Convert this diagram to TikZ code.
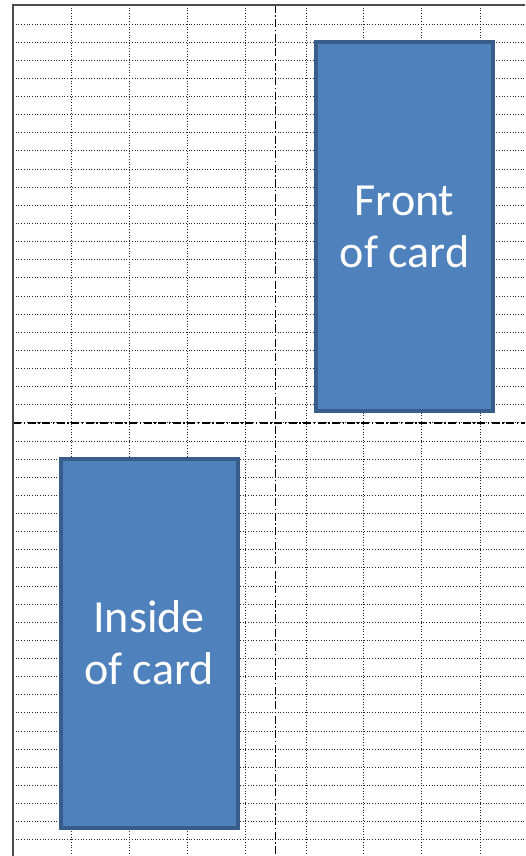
\documentclass[tikz,border=0pt]{standalone}
\usepackage{fontspec}
\setmainfont{Carlito}
\usepackage{tikz}

\definecolor{cardfill}{HTML}{4F81BD}
\definecolor{cardedge}{HTML}{385D8A}

\begin{document}
\begin{tikzpicture}[x=1pt, y=-1pt,
    gridline/.style={line width=0.9pt, black!85, dash pattern=on 0.9pt off 1.8pt},
    foldline/.style={line width=1.2pt, black, dash pattern=on 8pt off 2.5pt on 1.5pt off 2.5pt},
    card/.style={draw=cardedge, fill=cardfill, line width=4pt, text=white,
      align=center, inner sep=0pt, minimum width=177pt, minimum height=369pt,
      font=\fontsize{46}{52}\selectfont}]
  \useasboundingbox (0,0) rectangle (525,856);
  % page grid
  \foreach \y in {0,...,45}
    \draw[gridline] (13,{24+18.13*\y}) -- (525,{24+18.13*\y});
  \foreach \x in {71,129,187,245,306,363,421.5,480}
    \draw[gridline] (\x,5) -- (\x,856);
  % fold lines
  \draw[foldline] (275.5,5) -- (275.5,856);
  \draw[foldline] (13,423) -- (525,423);
  \draw[line width=1.5pt, black!70] (13,856) -- (13,5) -- (525,5);
  % the two panels
  \node[card] (front) at (404.5,226.5) {Front\\of card};
  \node[card] (inside) at (149,643) {Inside\\of card};
\end{tikzpicture}
\end{document}
